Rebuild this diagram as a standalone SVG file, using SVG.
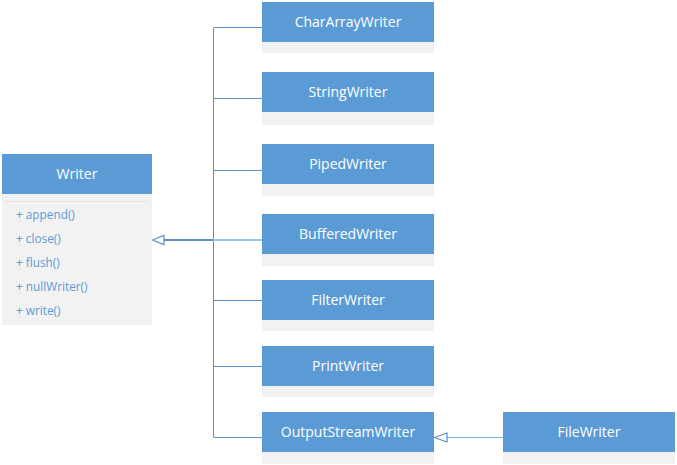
<svg xmlns="http://www.w3.org/2000/svg" width="677" height="465" viewBox="0 0 677 465">
<defs>
<style>
.hd{fill:#5B9BD5}
.bd{fill:#F2F2F2}
.t{font-family:"Open Sans","Noto Sans","Liberation Sans",sans-serif;font-size:14px;fill:#FFFFFF;text-anchor:middle}
.m{font-family:"Open Sans","Noto Sans","Liberation Sans",sans-serif;font-size:11.8px;fill:#5B9BD5}
.ln{stroke:#5B8FC9;stroke-width:1;fill:none}
</style>
</defs>
<rect width="677" height="465" fill="#FFFFFF"/>
<g id="connectors">
<path class="ln" d="M213.5 28V437"/>
<path class="ln" d="M213.5 27.5H262M213.5 98.5H262M213.5 170.5H262M213.5 300.5H262M213.5 366.5H262M213.5 437.5H262"/>
<path d="M213 240H262" stroke="#9DC3E6" stroke-width="2" fill="none"/>
<path d="M164 240H213" stroke="#5B8FC9" stroke-width="2" fill="none"/>
<path d="M152.5 240L164 235.5V244.5Z" fill="#FFFFFF" stroke="#5B8FC9" stroke-width="1.2"/>
<path d="M447 437.5H503" stroke="#7FAEDD" stroke-width="1.2" fill="none"/>
<path d="M434.5 437.5L447 433V442Z" fill="#FFFFFF" stroke="#5B8FC9" stroke-width="1.2"/>
</g>
<g id="Writer">
<rect class="bd" x="2" y="194" width="150" height="131"/>
<rect class="hd" x="2" y="154" width="150" height="40"/>
<line x1="5" y1="201.5" x2="148" y2="201.5" stroke="#C9D8E8" stroke-width="1" stroke-dasharray="1,1"/>
<text class="t" x="77" y="179">Writer</text>
<text class="m" x="16" y="219">+ append()</text>
<text class="m" x="16" y="243">+ close()</text>
<text class="m" x="16" y="267">+ flush()</text>
<text class="m" x="16" y="291">+ nullWriter()</text>
<text class="m" x="16" y="315">+ write()</text>
</g>
<g id="CharArrayWriter">
<rect class="bd" x="262" y="42" width="172" height="11"/>
<rect class="hd" x="262" y="2" width="172" height="40"/>
<text class="t" x="348" y="27">CharArrayWriter</text>
</g>
<g id="StringWriter">
<rect class="bd" x="262" y="112" width="172" height="13"/>
<rect class="hd" x="262" y="72" width="172" height="40"/>
<text class="t" x="348" y="97">StringWriter</text>
</g>
<g id="PipedWriter">
<rect class="bd" x="262" y="184" width="172" height="12"/>
<rect class="hd" x="262" y="144" width="172" height="40"/>
<text class="t" x="348" y="169">PipedWriter</text>
</g>
<g id="BufferedWriter">
<rect class="bd" x="262" y="254" width="172" height="12"/>
<rect class="hd" x="262" y="214" width="172" height="40"/>
<text class="t" x="348" y="239">BufferedWriter</text>
</g>
<g id="FilterWriter">
<rect class="bd" x="262" y="320" width="172" height="11"/>
<rect class="hd" x="262" y="280" width="172" height="40"/>
<text class="t" x="348" y="305">FilterWriter</text>
</g>
<g id="PrintWriter">
<rect class="bd" x="262" y="386" width="172" height="11"/>
<rect class="hd" x="262" y="346" width="172" height="40"/>
<text class="t" x="348" y="371">PrintWriter</text>
</g>
<g id="OutputStreamWriter">
<rect class="bd" x="262" y="452" width="172" height="12"/>
<rect class="hd" x="262" y="412" width="172" height="40"/>
<text class="t" x="348" y="437">OutputStreamWriter</text>
</g>
<g id="FileWriter">
<rect class="bd" x="503" y="452" width="172" height="12"/>
<rect class="hd" x="503" y="412" width="172" height="40"/>
<text class="t" x="589" y="437">FileWriter</text>
</g>
</svg>
